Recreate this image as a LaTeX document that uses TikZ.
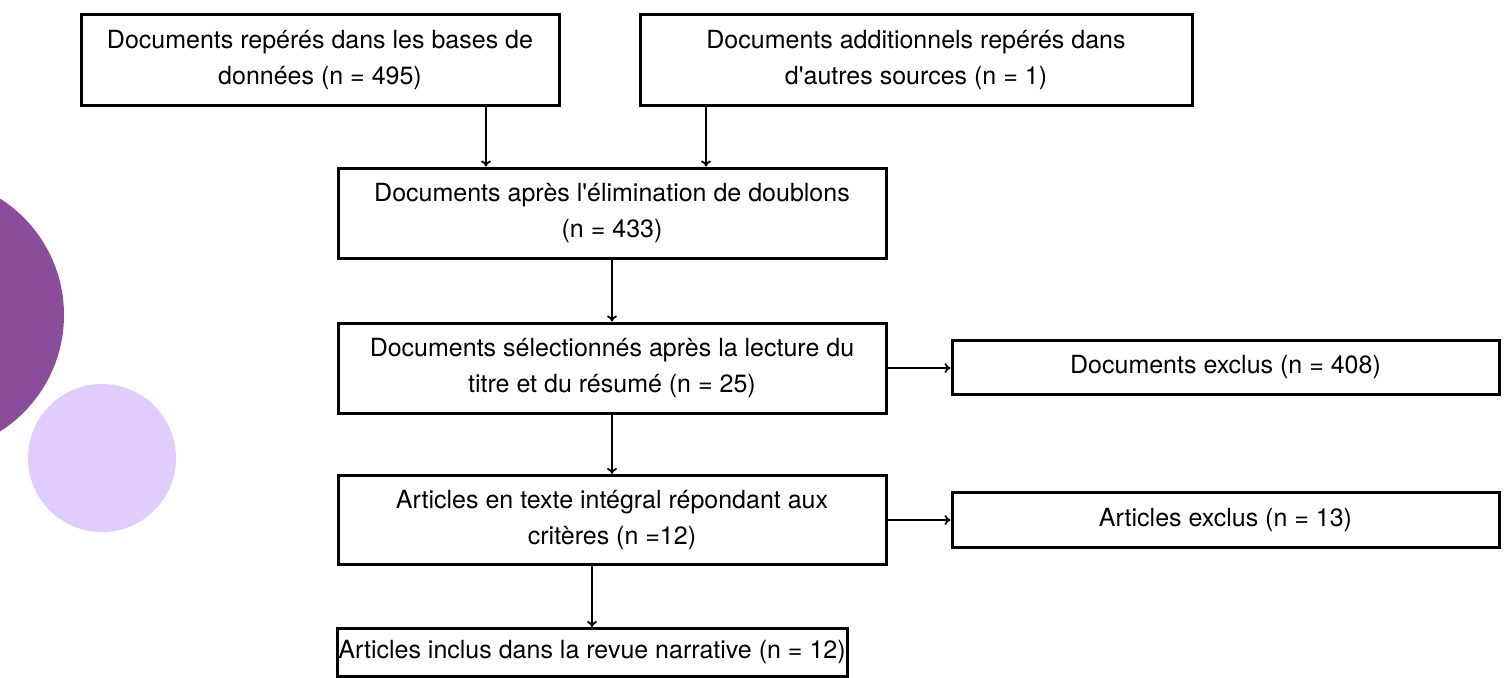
\documentclass[tikz,border=0pt]{standalone}
\usepackage{fontspec}
\setmainfont{TeX Gyre Heros}
\usetikzlibrary{arrows.meta,positioning}

\definecolor{plumdark}{HTML}{8B4C99}
\definecolor{plumlight}{HTML}{E0CCFD}

\tikzset{
  stagebox/.style={draw,line width=1.5pt,rectangle,align=center,inner sep=0pt,
    font=\fontsize{12.5pt}{18pt}\selectfont},
  flow/.style={-{To[length=3pt,width=5pt]},line width=0.9pt}
}

\begin{document}
\begin{tikzpicture}[x=0.5pt,y=-0.5pt]
                        \useasboundingbox (0,0) rectangle (1506,677);
                        % decorative circles
                        \fill[plumdark]  (-74,315) circle (138);
                        \fill[plumlight] (102,458) circle (74);

                        \node[stagebox,minimum width=239pt,minimum height=45.5pt] (db)     at (320,60)     {Documents repérés dans les bases de\\données (n = 495)};
                        \node[stagebox,minimum width=276pt,minimum height=45.5pt] (other)  at (916,60)     {Documents additionnels repérés dans\\d\textquotesingle autres sources (n = 1)};
                        \node[stagebox,minimum width=274pt,minimum height=45pt]   (dedup)  at (612,213)    {Documents après l\textquotesingle élimination de doublons\\(n = 433)};
                        \node[stagebox,minimum width=274pt,minimum height=45pt]   (screen) at (612,368)    {Documents sélectionnés après la lecture du\\titre et du résumé (n = 25)};
                        \node[stagebox,minimum width=273.5pt,minimum height=27pt] (excl1)  at (1225.5,367) {Documents exclus (n = 408)};
                        \node[stagebox,minimum width=274pt,minimum height=44.5pt] (full)   at (612,520)    {Articles en texte intégral répondant aux\\critères (n =12)};
                        \node[stagebox,minimum width=273.5pt,minimum height=27.5pt] (excl2) at (1225.5,520) {Articles exclus (n = 13)};
                        \node[stagebox,minimum width=255pt,minimum height=24pt]   (incl)   at (592,652.5)  {Articles inclus dans la revue narrative (n = 12)};

                        \coordinate (a1) at (486,0);
                        \coordinate (a2) at (706,0);

                        \draw[flow] (db.south -| a1) -- (dedup.north -| a1);
                        \draw[flow] (other.south -| a2) -- (dedup.north -| a2);
                        \draw[flow] (dedup) -- (screen);
                        \draw[flow] (screen) -- (excl1.west |- screen);
                        \draw[flow] (screen) -- (full);
                        \draw[flow] (full) -- (excl2.west |- full);
                        \draw[flow] (full.south -| incl) -- (incl);
                    \end{tikzpicture}
\end{document}
